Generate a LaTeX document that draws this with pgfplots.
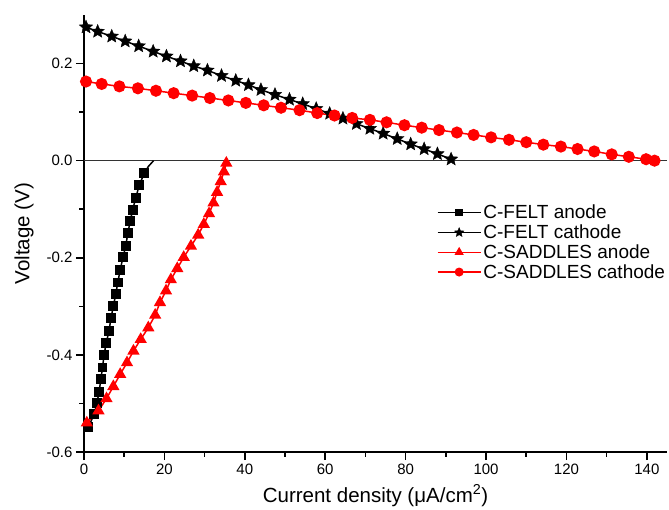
\documentclass[border=0pt]{standalone}
\usepackage{pgfplots}
\pgfplotsset{compat=1.18}
\usepackage{fontspec}
\setmainfont{Liberation Sans}

% filled five-pointed star
\pgfdeclareplotmark{fstar}{%
    \pgfpathmoveto{\pgfpointpolar{90}{\pgfplotmarksize}}%
    \pgfpathlineto{\pgfpointpolar{126}{0.45\pgfplotmarksize}}%
    \pgfpathlineto{\pgfpointpolar{162}{\pgfplotmarksize}}%
    \pgfpathlineto{\pgfpointpolar{198}{0.45\pgfplotmarksize}}%
    \pgfpathlineto{\pgfpointpolar{234}{\pgfplotmarksize}}%
    \pgfpathlineto{\pgfpointpolar{270}{0.45\pgfplotmarksize}}%
    \pgfpathlineto{\pgfpointpolar{306}{\pgfplotmarksize}}%
    \pgfpathlineto{\pgfpointpolar{342}{0.45\pgfplotmarksize}}%
    \pgfpathlineto{\pgfpointpolar{18}{\pgfplotmarksize}}%
    \pgfpathlineto{\pgfpointpolar{54}{0.45\pgfplotmarksize}}%
    \pgfpathclose
    \pgfusepathqfillstroke
}

\begin{document}
\begin{tikzpicture}
    \begin{axis}[
        scale only axis,
        width  = 583pt,
        height = 437pt,
        xmin = 0, xmax = 145,
        ymin = -0.6, ymax = 0.3,
        axis lines = left,
        axis line style = {-, line width=1.8pt},
        tick align = outside,
        major tick length = 8pt,
        minor tick length = 4.5pt,
        tick style = {black, line width=1.6pt},
        xtick = {0,20,...,140},
        ytick = {-0.6,-0.4,-0.2,0.0,0.2},
        minor x tick num = 1,
        minor y tick num = 1,
        /pgf/number format/assume math mode=true,
        yticklabel style = {/pgf/number format/fixed, /pgf/number format/precision=1, /pgf/number format/fixed zerofill},
        scaled y ticks = false,
        tick label style = {font=\fontsize{15}{18}\selectfont},
        xlabel = {Current density (μA/cm\textsuperscript{2})},
        ylabel = {Voltage (V)},
        every axis x label/.style = {at={(axis description cs:0.5,-0.100)}, anchor=center,
            font=\fontsize{20.5}{24}\selectfont},
        every axis y label/.style = {at={(axis description cs:-0.103,0.5)}, anchor=center, rotate=90,
            font=\fontsize{20.5}{24}\selectfont},
        clip = false,
        legend cell align = left,
        legend style = {
            draw = none, fill = none,
            at = {(0.605,0.57)}, anchor = north west,
            font = \fontsize{19}{23}\selectfont,
            row sep = 0.5pt,
            inner sep = 0pt,
        },
        legend image code/.code = {
            \draw[mark repeat=2, mark phase=2, every mark/.append style={scale=0.7}]
                plot coordinates {(0pt,0pt) (21.5pt,0pt) (43pt,0pt)};
        },
    ]
        % zero line across the plot
        \addplot[forget plot, line width=1.2pt, black!80, mark=none]
            coordinates {(0,0) (145,0)};

        % C-FELT anode
        \addplot[black, line width=1.5pt, mark=square*, mark size=4.2pt]
            coordinates {
                (1.1,-0.549) (2.5,-0.522) (3.2,-0.500) (3.75,-0.476) (4.2,-0.450)
                (4.6,-0.426) (5.0,-0.400) (5.5,-0.376) (6.25,-0.350) (6.7,-0.324)
                (7.3,-0.300) (7.9,-0.275) (8.4,-0.251) (9.0,-0.225) (9.7,-0.199)
                (10.4,-0.175) (10.9,-0.149) (11.5,-0.125) (12.1,-0.101) (12.9,-0.076)
                (13.75,-0.050) (15.0,-0.026)
            };
        \addplot[forget plot, black, line width=1.5pt, mark=none]
            coordinates {(15.0,-0.026) (16.0,-0.012) (17.3,0.0)};

        % C-FELT cathode
        \addplot[black, line width=1.5pt, mark=fstar, mark size=7pt,
                 mark options={line width=0.4pt, fill=black}]
            coordinates {
                (0.5,0.275) (3.4,0.266) (6.9,0.256) (10.25,0.246) (13.6,0.236)
                (17.2,0.225) (20.5,0.215) (24.0,0.205) (27.3,0.195) (30.7,0.186)
                (34.2,0.175) (37.75,0.165) (40.9,0.156) (44.0,0.146) (47.5,0.136)
                (51.1,0.126) (54.4,0.117) (57.75,0.107) (61.1,0.097) (64.4,0.087)
                (67.75,0.076) (71.1,0.066) (74.4,0.056) (77.9,0.045) (81.25,0.034)
                (84.6,0.024) (87.9,0.014) (91.3,0.003)
            };

        % C-SADDLES anode
        \addplot[red, line width=1.5pt, mark=triangle*, mark size=5.6pt]
            coordinates {
                (0.7,-0.540) (3.6,-0.515) (5.6,-0.490) (7.3,-0.465) (9.0,-0.440)
                (10.7,-0.416) (12.3,-0.392) (14.1,-0.368) (16.0,-0.344) (17.7,-0.318)
                (18.9,-0.292) (20.4,-0.268) (21.6,-0.245) (23.2,-0.222) (24.8,-0.199)
                (26.6,-0.176) (28.4,-0.153) (29.8,-0.131) (31.1,-0.109) (32.2,-0.087)
                (33.1,-0.065) (34.0,-0.043) (34.8,-0.023) (35.4,-0.005)
            };

        % C-SADDLES cathode
        \addplot[red, line width=1.5pt, mark=*, mark size=5.3pt]
            coordinates {
                (0.5,0.163) (4.4,0.158) (8.8,0.153) (13.4,0.149) (17.9,0.144)
                (22.3,0.139) (26.9,0.134) (31.3,0.129) (35.9,0.124) (40.25,0.119)
                (44.7,0.114) (49.0,0.109) (53.6,0.104) (58.0,0.098) (62.3,0.093)
                (66.7,0.088) (71.1,0.084) (75.25,0.079) (79.7,0.073) (84.0,0.068)
                (88.3,0.063) (92.75,0.058) (96.9,0.053) (101.25,0.048) (105.7,0.043)
                (110.0,0.038) (114.25,0.033) (118.6,0.029) (122.75,0.024) (126.9,0.019)
                (131.25,0.013) (135.5,0.008) (139.8,0.003) (141.9,0.0)
            };

        \legend{C-FELT anode, C-FELT cathode, C-SADDLES anode, C-SADDLES cathode}
    \end{axis}
    \pgfresetboundingbox
    \path (-84pt,-57pt) rectangle (585pt,452pt);
\end{tikzpicture}
\end{document}
